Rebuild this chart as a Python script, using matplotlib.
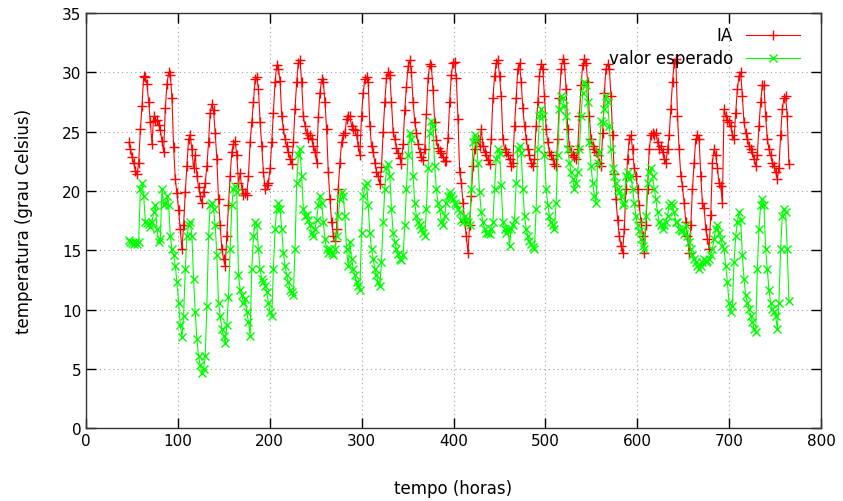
import numpy as np
import matplotlib
matplotlib.use('Agg')
import matplotlib.pyplot as plt

# valores (passo de ~1.81 h)
ia_1 = [24.1, 23.5, 22.9, 22.4, 21.7, 21.4, 22.4, 25.2, 27.2, 29.7, 29.6, 29.0, 27.5, 25.8,
        24.0, 26.3, 25.9, 26.0, 25.6, 25.1, 24.2, 23.3, 27.0, 29.0, 30.0, 29.8, 27.8, 23.7,
        21.0, 19.8, 18.4, 16.8, 15.1, 17.1, 19.9, 22.1, 24.4, 24.7, 23.5, 21.9, 23.0, 21.3,
        20.3, 19.6, 19.0, 19.9, 20.7, 22.1, 24.1, 26.6, 27.3, 26.8, 24.9, 22.7, 19.3, 17.1,
        15.1, 14.3, 13.7, 16.2, 18.8, 21.3, 23.3, 24.0, 24.2, 23.0]
ia_2 = [20.7, 21.5, 20.2, 19.7, 19.8, 19.7, 21.3, 24.1, 25.8, 27.5, 29.4, 29.6, 28.6, 25.8,
        23.8, 21.6, 20.2, 20.5, 20.7, 21.9, 24.1, 26.6, 29.2, 30.6, 30.3, 29.3, 26.3, 25.2,
        24.4, 23.8, 23.3, 22.7, 22.3, 24.1, 26.9, 29.2, 30.8, 31.0, 29.2, 26.3, 25.5, 24.9,
        24.5, 24.7, 24.4, 23.8, 23.3, 22.4, 26.2, 28.3, 29.4, 29.2, 27.5, 25.2, 21.6, 19.3,
        17.4, 16.2, 15.8, 16.8, 20.2, 22.4, 24.1, 24.7, 24.9, 26.1, 26.3]
ia_3 = [26.3, 25.5, 25.2, 25.1, 24.7, 23.8, 23.0, 26.3, 28.3, 29.4, 29.6, 29.2, 25.5, 23.8,
        23.3, 22.4, 21.6, 21.3, 20.6, 22.0, 25.0, 27.5, 29.5, 30.0, 29.8, 27.5, 25.0, 24.4,
        23.6, 23.2, 22.8, 22.3, 24.0, 26.8, 28.8, 30.5, 31.0, 30.0, 27.5, 25.8, 24.9, 24.0,
        23.3, 22.9, 22.6, 23.5, 26.5, 29.5, 30.7, 30.5, 28.5, 25.8, 24.3, 23.6, 23.4, 23.2,
        22.9, 22.5, 22.5, 24.5, 27.5, 29.8, 30.8, 30.9, 29.5]
ia_4 = [26.1, 21.6, 20.7, 19.0, 17.4, 16.2, 14.8, 17.1, 19.6, 22.1, 23.5, 24.1, 24.4, 23.8,
        25.2, 23.8, 23.3, 23.0, 22.6, 22.3, 24.4, 27.8, 29.7, 30.8, 31.0, 29.7, 28.0, 24.4,
        23.5, 23.3, 23.0, 22.7, 22.1, 22.4, 25.5, 27.8, 30.3, 30.8, 29.2, 27.0, 25.5, 24.4,
        23.5, 23.0, 22.4, 22.1, 22.7, 25.5, 27.5, 29.7, 30.7, 30.3, 28.0, 25.2, 24.1, 23.3,
        23.0, 22.7, 22.3, 22.1, 24.4, 27.8, 30.3, 31.1, 30.8]
ia_5 = [28.6, 25.2, 23.8, 23.3, 23.0, 22.9, 22.7, 23.5, 26.3, 28.9, 30.6, 31.1, 30.8, 29.2,
        26.3, 24.4, 23.8, 23.5, 23.3, 23.0, 22.4, 22.1, 24.9, 28.3, 30.3, 30.7, 30.3, 28.0,
        24.7, 21.4, 19.3, 17.6, 16.2, 15.4, 14.8, 16.8, 20.2, 22.7, 24.4, 24.7, 23.5, 21.9,
        21.3, 20.2, 18.8, 17.4, 16.2, 14.8, 17.1, 20.2, 23.5, 24.7, 24.9, 24.7, 24.9, 24.1,
        23.5, 23.8, 23.3, 22.7, 22.4, 23.5, 24.7, 26.9, 29.2, 30.8, 31.1]
ia_6 = [26.3, 23.5, 21.3, 20.4, 19.0, 17.4, 16.2, 14.8, 17.1, 20.2, 22.4, 24.4, 24.7, 24.4,
        21.3, 19.0, 18.6, 16.8, 16.0, 15.1, 18.0, 22.4, 23.5, 23.0, 21.9, 20.7, 20.4, 19.0,
        26.9, 26.3, 26.0, 25.8, 25.5, 24.7, 24.4, 26.6, 28.6, 29.7, 30.0, 28.0, 25.8, 24.9,
        24.4, 23.8, 23.5, 23.3, 22.7, 22.1, 23.0, 25.5, 27.5, 28.9, 28.9, 26.3, 24.4, 23.5,
        23.0, 22.4, 22.1, 21.6, 21.0, 21.9, 24.7, 26.9, 27.8, 28.0, 26.3, 22.3]

esp_1 = [15.9, 15.7, 15.6, 15.5, 15.7, 15.5, 15.7, 20.2, 20.7, 19.6, 17.4, 17.3, 17.2, 17.0,
         17.4, 18.2, 18.8, 16.8, 15.7, 16.0, 20.2, 18.8, 19.0, 19.6, 18.8, 16.2, 15.1, 14.6,
         13.7, 12.3, 10.6, 8.7, 7.7, 9.5, 13.4, 16.2, 17.1, 17.4, 16.2, 12.6, 9.8, 7.5,
         6.1, 5.3, 4.7, 5.0, 6.1, 10.3, 16.2, 18.8, 19.0, 18.5, 17.1, 14.6, 10.6, 9.5,
         8.4, 7.8, 7.2, 8.7, 11.1, 15.1, 18.8, 20.2, 20.4, 19.9]
esp_2 = [12.9, 11.7, 11.2, 10.6, 10.9, 9.8, 9.0, 7.8, 13.4, 16.2, 17.4, 17.1, 15.1, 13.4,
         12.6, 12.3, 12.0, 11.5, 10.6, 9.8, 9.5, 13.4, 16.8, 18.5, 19.0, 18.5, 16.8, 14.8,
         13.7, 12.9, 12.3, 11.7, 11.5, 11.2, 15.1, 20.7, 23.0, 23.5, 21.3, 18.5, 17.9, 18.0,
         17.6, 17.1, 16.5, 16.2, 16.8, 17.6, 18.8, 19.6, 19.0, 17.4, 16.0, 15.1, 14.8, 15.1,
         14.8, 14.6, 15.1, 16.2, 17.9, 19.3, 19.9, 19.6, 17.9, 15.1, 13.7]
esp_3 = [15.7, 14.3, 13.4, 12.9, 12.3, 12.0, 11.7, 16.5, 19.6, 20.4, 20.7, 18.8, 16.5, 15.1,
         14.3, 13.4, 12.9, 12.3, 12.0, 14.0, 17.4, 20.2, 21.9, 22.3, 21.3, 18.5, 16.5, 15.7,
         15.1, 14.7, 14.3, 14.2, 14.6, 17.1, 20.2, 23.0, 24.9, 24.4, 21.3, 19.0, 17.9, 17.4,
         17.1, 16.8, 16.5, 16.2, 18.5, 21.9, 24.9, 25.9, 25.5, 22.1, 20.2, 19.0, 18.5, 17.4,
         17.1, 17.9, 19.0, 19.6, 19.9, 19.6, 19.3, 19.0, 18.8]
esp_4 = [18.5, 18.2, 17.6, 17.4, 17.9, 17.6, 17.4, 17.1, 20.2, 24.1, 24.7, 24.4, 22.4, 19.9,
         18.2, 17.4, 16.8, 16.5, 16.5, 16.4, 16.8, 17.4, 20.2, 22.7, 23.5, 23.2, 20.5, 17.4,
         16.8, 16.5, 16.8, 15.4, 16.8, 17.1, 17.6, 20.7, 23.5, 23.8, 23.2, 20.2, 17.9, 16.8,
         16.2, 15.8, 15.5, 15.3, 15.1, 18.5, 23.5, 26.3, 26.9, 26.3, 23.0, 20.2, 18.8, 17.9,
         17.4, 17.1, 16.8, 19.0, 23.0, 26.9, 28.0, 27.8, 27.2]
esp_5 = [26.3, 23.5, 22.4, 21.6, 21.0, 20.2, 20.7, 21.6, 23.5, 26.3, 28.3, 29.2, 28.9, 27.5,
         24.1, 22.1, 20.7, 19.6, 19.0, 22.4, 23.3, 25.9, 25.7, 26.9, 28.0, 27.5, 25.5, 23.5,
         21.9, 21.3, 20.7, 20.2, 19.9, 19.6, 18.8, 19.0, 21.3, 21.6, 21.0, 21.3, 20.2, 19.0,
         17.9, 17.1, 16.6, 16.0, 15.4, 15.1, 17.9, 20.7, 21.6, 21.9, 21.3, 20.2, 19.3, 18.2,
         17.4, 17.1, 16.8, 17.1, 17.4, 17.9, 18.8, 19.0, 18.8, 18.2, 17.4]
esp_6 = [17.4, 16.8, 16.7, 16.6, 16.4, 17.1, 16.2, 15.7, 15.1, 14.6, 14.3, 14.0, 13.7, 13.4,
         13.7, 14.0, 14.3, 14.0, 14.1, 14.3, 14.6, 15.1, 16.0, 16.8, 17.1, 16.5, 16.0, 15.4,
         15.1, 13.7, 12.3, 10.6, 9.8, 10.3, 14.0, 16.2, 17.4, 18.2, 17.6, 14.6, 12.6, 11.2,
         10.6, 10.1, 9.5, 9.0, 8.4, 8.1, 13.4, 16.8, 18.8, 19.3, 18.8, 15.1, 13.4, 11.7,
         10.6, 10.1, 9.8, 9.5, 8.4, 10.6, 15.1, 17.9, 18.5, 18.2, 15.1, 10.7]

ia = ia_1 + ia_2 + ia_3 + ia_4 + ia_5 + ia_6
esperado = esp_1 + esp_2 + esp_3 + esp_4 + esp_5 + esp_6

t_inicio = 46.5
passo = 1.81
tempo_ia = t_inicio + passo * np.arange(len(ia))
tempo_esp = t_inicio + passo * np.arange(len(esperado))

plt.rcParams['font.family'] = 'DejaVu Sans'
plt.rcParams['font.size'] = 11

fig = plt.figure(figsize=(8.43, 5.02), dpi=100)
ax = fig.add_axes([86 / 843, 1 - 429.4 / 502, 735 / 843, 415.4 / 502])

ax.plot(tempo_ia, ia, color='#ff0000', marker='+', markersize=7, markeredgewidth=1.0,
        linewidth=0.8, label='IA')
ax.plot(tempo_esp, esperado, color='#00ff00', marker='x', markersize=6, markeredgewidth=1.0,
        linewidth=0.8, label='valor esperado')

ax.set_xlim(0, 800)
ax.set_ylim(0, 35)
ax.set_xticks(range(0, 801, 100))
ax.set_yticks(range(0, 36, 5))
ax.tick_params(direction='in', top=True, right=True, length=7, width=1.0)
ax.grid(True, linestyle=(0, (1, 3)), color='#a0a0a0', linewidth=0.8)
for s in ax.spines.values():
    s.set_linewidth(1.0)
    s.set_color('#333333')

ax.set_xlabel('tempo (horas)', fontsize=12, labelpad=22)
ax.set_ylabel('temperatura (grau Celsius)', fontsize=12, labelpad=21)

ax.legend(loc='upper right', bbox_to_anchor=(1 - 8 / 735, 1), frameon=False,
          markerfirst=False, handlelength=3.2, fontsize=12, borderaxespad=0.4,
          labelspacing=0.3)

fig.savefig('out.png', dpi=100)
